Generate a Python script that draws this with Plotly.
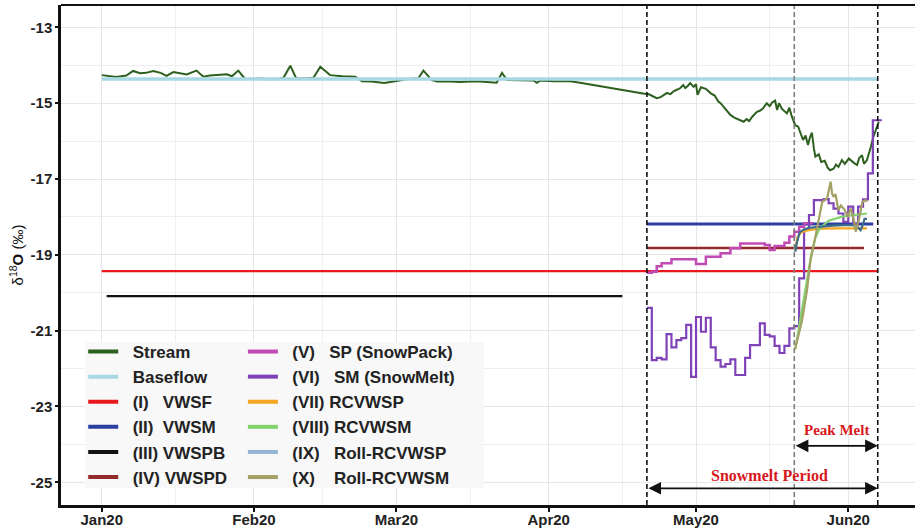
import plotly.graph_objects as go
import pandas as pd

BASE = pd.Timestamp("2020-01-01")

# ---------------- data ----------------
month_ticks = ["2020-01-01", "2020-02-01", "2020-03-01", "2020-04-01", "2020-05-01", "2020-06-01"]
month_labels = ["Jan20", "Feb20", "Mar20", "Apr20", "May20", "Jun20"]
mid_month = ["2020-01-16", "2020-02-15", "2020-03-16", "2020-04-16", "2020-05-16"]
y_ticks = [-13, -15, -17, -19, -21, -23, -25]
y_labels = ["-13", "-15", "-17", "-19", "-21", "-23", "-25"]
y_minor = [-14, -16, -18, -20, -22, -24]

# period boundaries
snowmelt_start = "2020-04-21"
peak_start = "2020-05-21"
period_end = "2020-06-07"

# Stream (days since 1 Jan 2020, delta18O)
stream_day = [0, 1, 2, 3, 4, 5, 6.4, 7.8, 9, 10.5, 12, 13.2, 14.6, 16, 17.3, 19.3, 20.7, 22, 24, 25.5,
              26.5, 27.8, 29.2, 31, 32.6, 33.5, 34.3, 36, 37, 38.4, 39.6, 41, 43.1, 44.5, 46.5, 49, 51.6,
              53, 55, 57.5, 59.7, 62, 64.5, 65.5, 67.2, 68.3, 71, 73, 75, 77, 80.4, 81.5, 82.5, 85, 87.9,
              88.6, 89.3, 92, 95.4, 97.4, 100, 103, 105.6, 107, 108.5, 109.6, 110.5, 111.3, 112, 113,
              113.8, 114.5, 115.1, 115.8, 116.5, 117.2, 117.8, 118.4, 118.8, 119.3, 119.8, 120.5, 121,
              121.3, 122, 123, 124, 124.8, 125.5, 126, 126.8, 127.5, 128, 128.8, 129.5, 130, 130.7, 131.3,
              131.8, 132.5, 133.4, 134, 134.6, 135.4, 136, 136.5, 137.1, 137.5, 137.9, 138.5, 139, 139.5,
              140, 140.5, 141.2, 141.8, 142.3, 142.8, 143.3, 143.8, 144.2, 144.6, 145, 145.3, 146, 146.5,
              147.2, 147.8, 148.3, 149, 149.5, 150, 150.7, 151.3, 152.1, 152.6, 153.2, 153.8, 154.2,
              154.8, 155.2, 155.8, 156.2, 156.6, 157.1, 157.6, 158.2]
stream_val = [-14.26, -14.28, -14.30, -14.31, -14.29, -14.27, -14.15, -14.21, -14.20, -14.15, -14.20, -14.28,
              -14.18, -14.22, -14.24, -14.14, -14.30, -14.27, -14.26, -14.24, -14.29, -14.14, -14.36, -14.35,
              -14.35, -14.37, -14.37, -14.36, -14.33, -14.01, -14.35, -14.35, -14.33, -14.04, -14.26, -14.29,
              -14.30, -14.42, -14.43, -14.47, -14.42, -14.37, -14.34, -14.14, -14.39, -14.43, -14.43, -14.44,
              -14.43, -14.43, -14.46, -14.20, -14.39, -14.40, -14.40, -14.46, -14.40, -14.42, -14.42, -14.46,
              -14.52, -14.58, -14.64, -14.68, -14.71, -14.73, -14.75, -14.76, -14.80, -14.87, -14.84, -14.78,
              -14.73, -14.76, -14.68, -14.64, -14.60, -14.52, -14.60, -14.55, -14.47, -14.57, -14.50, -14.78,
              -14.58, -14.62, -14.74, -14.80, -14.95, -15.00, -15.12, -15.25, -15.31, -15.38, -15.42, -15.45,
              -15.49, -15.42, -15.47, -15.35, -15.23, -15.20, -15.14, -15.00, -15.08, -14.98, -14.93, -15.18,
              -15.00, -15.15, -15.22, -15.27, -15.12, -15.35, -15.58, -15.62, -15.80, -15.97, -15.85, -16.10,
              -15.90, -15.78, -16.20, -16.41, -16.35, -16.55, -16.52, -16.70, -16.77, -16.73, -16.62, -16.68,
              -16.50, -16.60, -16.46, -16.52, -16.58, -16.63, -16.45, -16.37, -16.60, -16.50, -16.35, -16.15,
              -15.89, -15.70, -15.49]

# constant end-members: (value, start, end)
baseflow = (-14.36, "2020-01-01", "2020-06-07")
vwsf = (-19.43, "2020-01-01", "2020-06-07")
vwsm = (-18.19, "2020-04-21", "2020-06-06 02:00")
vwspb = (-20.09, "2020-01-02", "2020-04-16")
vwspd = (-18.82, "2020-04-21", "2020-06-04 05:00")

# Daily step series starting 21 Apr 2020
sp_vals = [-19.47, -19.45, -19.30, -19.22, -19.22, -19.12, -19.12, -19.12, -19.12, -19.12, -19.24, -19.24,
           -19.05, -19.05, -19.05, -18.96, -18.96, -18.83, -18.83, -18.70, -18.70, -18.70, -18.70, -18.70,
           -18.74, -18.87, -18.77, -18.77, -18.68, -18.52, -18.39, -18.26, -18.17, -18.17]
sm_vals = [-20.40, -21.78, -21.72, -21.76, -21.09, -21.44, -21.25, -21.20, -20.85, -22.22, -20.64, -21.03,
           -20.66, -21.44, -21.78, -21.95, -21.88, -21.76, -22.17, -22.17, -21.72, -21.38, -21.38, -20.81,
           -21.11, -21.15, -21.40, -21.59, -21.40, -20.94, -20.88, -19.62, -18.33, -17.95, -17.56, -17.56,
           -17.53, -17.64, -17.78, -17.91, -18.13, -17.73, -18.17, -17.73, -17.54, -16.85, -15.45, -15.45]

rcvwsp_day = [141.2, 141.6, 142.3, 143.5, 145, 147, 150, 153, 155.8]
rcvwsp_val = [-18.90, -18.55, -18.42, -18.36, -18.33, -18.31, -18.30, -18.30, -18.30]

rcvwsm_day = [141.2, 142, 142.8, 143.6, 144.4, 145.3, 146, 146.9, 148, 149.6, 150.5, 152, 153.8, 155, 155.8]
rcvwsm_val = [-21.50, -20.90, -20.30, -19.70, -19.05, -18.55, -18.35, -18.22, -18.10, -18.04, -18.00, -17.97,
              -17.95, -17.92, -17.91]

roll_rcvwsp_day = [141.2, 141.5, 142, 142.2, 143, 144, 145.5, 147, 149, 151, 153, 154, 154.5, 155, 155.3, 155.8]
roll_rcvwsp_val = [-18.92, -18.70, -18.45, -18.39, -18.33, -18.29, -18.27, -18.25, -18.23, -18.22, -18.22,
                   -18.28, -18.35, -18.20, -18.05, -18.05]

roll_rcvwsm_day = [141.2, 142, 142.6, 143.6, 144.3, 145.3, 146, 146.7, 147.7, 148.1, 148.4, 148.7, 149, 149.4,
                   150, 150.5, 151.3, 151.9, 152.5, 153.2, 153.5, 154.2, 154.9, 155.5, 155.8]
roll_rcvwsm_val = [-21.47, -21.03, -20.72, -19.93, -19.14, -18.52, -18.04, -17.60, -17.51, -17.30, -17.07,
                   -17.38, -17.47, -17.40, -17.82, -17.70, -17.82, -18.00, -17.78, -18.13, -18.39, -18.04,
                   -17.60, -17.56, -17.60]

# ---------------- helpers ----------------
def days_to_dates(days):
    return [BASE + pd.Timedelta(days=d) for d in days]

def step_series(start, vals):
    dates = list(pd.date_range(start, periods=len(vals), freq="D"))
    dates.append(dates[-1] + pd.Timedelta(hours=20))
    return dates, list(vals) + [vals[-1]]

C = dict(stream="#2D5F1F", base="#A8D8E4", vwsf="#E8191E", vwsm="#2A3F9F", vwspb="#111111",
         vwspd="#922B2B", sp="#C24AB5", sm="#7F42B8", rcvwsp="#F5A623", rcvwsm="#82D36E",
         roll_sp="#3E6F8A", roll_sp_leg="#94B6D2", roll_sm="#A5A066")

fig = go.Figure()

def add_line(x, y, color, width, shape="linear"):
    fig.add_trace(go.Scatter(x=x, y=y, mode="lines", line=dict(color=color, width=width, shape=shape),
                             showlegend=False, hoverinfo="skip"))

def hline(spec, color, width):
    v, s, e = spec
    add_line([pd.Timestamp(s), pd.Timestamp(e)], [v, v], color, width)

add_line(days_to_dates(stream_day), stream_val, C["stream"], 2)
hline(baseflow, C["base"], 3.5)
hline(vwsf, C["vwsf"], 2.2)
hline(vwsm, C["vwsm"], 3)
hline(vwspb, C["vwspb"], 2.2)
hline(vwspd, C["vwspd"], 2.4)
x, y = step_series(snowmelt_start, sp_vals)
add_line(x, y, C["sp"], 2.5, "hv")
x, y = step_series(snowmelt_start, sm_vals)
add_line(x, y, C["sm"], 2.2, "hv")
add_line(days_to_dates(rcvwsp_day), rcvwsp_val, C["rcvwsp"], 2.2)
add_line(days_to_dates(rcvwsm_day), rcvwsm_val, C["rcvwsm"], 2.2)
add_line(days_to_dates(roll_rcvwsp_day), roll_rcvwsp_val, C["roll_sp"], 2.2)
add_line(days_to_dates(roll_rcvwsm_day), roll_rcvwsm_val, C["roll_sm"], 2.2)

# legend entries
NB = "\u00a0"
leg1 = [("Stream", C["stream"]), ("Baseflow", C["base"]), ("(I)" + NB * 3 + "VWSF", C["vwsf"]),
        ("(II)" + NB * 2 + "VWSM", C["vwsm"]), ("(III)" + NB + "VWSPB", C["vwspb"]),
        ("(IV)" + NB + "VWSPD", C["vwspd"])]
leg2 = [("(V)" + NB * 3 + "SP (SnowPack)", C["sp"]), ("(VI)" + NB * 3 + "SM (SnowMelt)", C["sm"]),
        ("(VII)" + NB + "RCVWSP", C["rcvwsp"]), ("(VIII)" + NB + "RCVWSM", C["rcvwsm"]),
        ("(IX)" + NB * 3 + "Roll-RCVWSP", C["roll_sp_leg"]), ("(X)" + NB * 4 + "Roll-RCVWSM", C["roll_sm"])]
for lg, items in (("legend", leg1), ("legend2", leg2)):
    for name, col in items:
        fig.add_trace(go.Scatter(x=[None], y=[None], mode="lines", name=NB * 2 + name,
                                 line=dict(color=col, width=4), legend=lg, showlegend=True))

# period lines
shapes = []
for d, col in ((snowmelt_start, "#111111"), (peak_start, "#808080"), (period_end, "#111111")):
    shapes.append(dict(type="line", xref="x", yref="paper", x0=d, x1=d, y0=0, y1=1,
                       line=dict(color=col, width=1.6, dash="5px,3px")))
shapes.append(dict(type="line", xref="paper", yref="paper", x0=0, x1=1, y0=1, y1=1,
                   line=dict(color="#111111", width=2)))
# legend background panel
shapes.append(dict(type="rect", xref="paper", yref="paper", x0=0.028, x1=0.495, y0=0.034, y1=0.326,
                   fillcolor="#F8F8F8", line=dict(width=0), layer="above"))

annots = [
    dict(x=period_end, y=-25.16, ax=snowmelt_start, ay=-25.16, xref="x", yref="y", axref="x", ayref="y",
         text="", showarrow=True, arrowside="end+start", arrowhead=2, arrowsize=1.4, arrowwidth=1.8,
         arrowcolor="#111111", standoff=0, startstandoff=0),
    dict(x=period_end, y=-24.04, ax=peak_start, ay=-24.04, xref="x", yref="y", axref="x", ayref="y",
         text="", showarrow=True, arrowside="end+start", arrowhead=2, arrowsize=1.4, arrowwidth=1.8,
         arrowcolor="#111111", standoff=0, startstandoff=0),
    dict(x="2020-05-16", y=-24.81, xref="x", yref="y", text="<b>Snowmelt Period</b>", showarrow=False,
         font=dict(family="Liberation Serif", size=16, color="#D7191C")),
    dict(x="2020-05-29 16:00", y=-23.63, xref="x", yref="y", text="<b>Peak Melt</b>", showarrow=False,
         font=dict(family="Liberation Serif", size=15, color="#D7191C")),
]

legend_common = dict(yanchor="top", xanchor="left", y=0.342, bgcolor="rgba(0,0,0,0)", borderwidth=0,
                     font=dict(family="Liberation Sans", size=17, color="#222222", weight="bold"),
                     tracegroupgap=0)

fig.update_layout(
    width=915, height=528, margin=dict(l=61, r=0, t=5, b=23),
    plot_bgcolor="white", paper_bgcolor="white",
    shapes=shapes, annotations=annots,
    legend=dict(x=0.026, **legend_common),
    legend2=dict(x=0.213, **legend_common),
    xaxis=dict(type="date", range=["2019-12-23 17:00", "2020-06-14 14:00"], automargin=False,
               tickmode="array", tickvals=month_ticks, ticktext=month_labels,
               ticks="outside", ticklen=4, tickwidth=1.5, tickcolor="#111111", ticklabelstandoff=-5,
               showline=True, linecolor="#111111", linewidth=2.5, zeroline=False,
               showgrid=True, gridcolor="#E6E6E6", gridwidth=1,
               minor=dict(tickmode="array", tickvals=mid_month, showgrid=True, gridcolor="#EFEFEF", gridwidth=1),
               tickfont=dict(family="Liberation Sans", size=15, color="#222222", weight="bold")),
    yaxis=dict(range=[-25.6, -12.41], automargin=False, tickmode="array", tickvals=y_ticks, ticktext=y_labels,
               ticks="outside", ticklen=3, tickwidth=1.5, tickcolor="#111111",
               showline=True, linecolor="#111111", linewidth=2.5, zeroline=False,
               showgrid=True, gridcolor="#E6E6E6", gridwidth=1,
               minor=dict(tickmode="array", tickvals=y_minor, showgrid=True, gridcolor="#EFEFEF", gridwidth=1),
               tickfont=dict(family="Liberation Sans", size=15, color="#222222", weight="bold"),
               title=dict(text="δ<sup>18</sup><b>O</b> (‰)", standoff=4,
                          font=dict(family="Liberation Sans", size=15, color="#111111"))),
)

fig.write_html("out.html")
